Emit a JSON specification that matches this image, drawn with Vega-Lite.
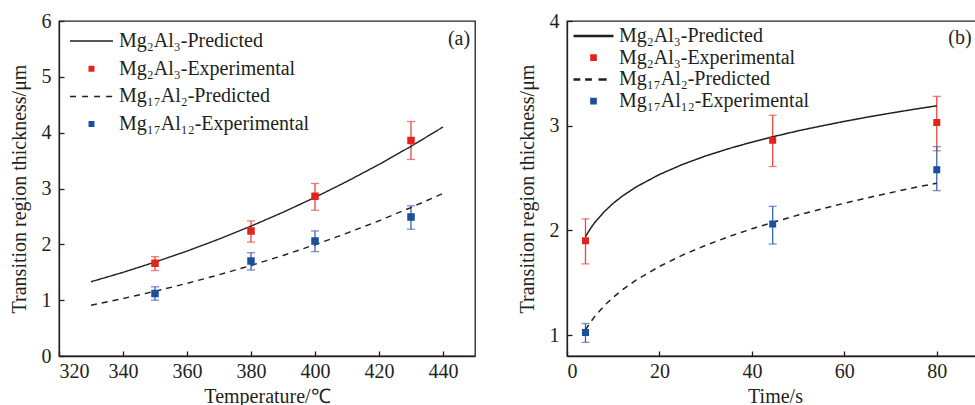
{
  "$schema": "https://vega.github.io/schema/vega-lite/v6.json",
  "autosize": {"type": "none"},
  "padding": {"left": 59, "top": 21, "right": 916, "bottom": 384},
  "background": "white",
  "bounds": "flush",
  "spacing": 92,
  "config": {
    "font": "Liberation Serif",
    "view": {"stroke": "#231f20", "strokeWidth": 1.3},
    "axis": {
      "labelFont": "Liberation Serif", "labelFontSize": 20, "labelColor": "#231f20",
      "titleFont": "Liberation Serif", "titleFontSize": 20, "titleFontWeight": "normal", "titleColor": "#231f20",
      "grid": false, "domainColor": "#231f20", "domainWidth": 1.3,
      "tickColor": "#231f20", "tickWidth": 1.3, "tickSize": -5
    },
    "axisX": {"labelPadding": 10, "titlePadding": 5},
    "axisY": {"labelPadding": 13, "titlePadding": 12},
    "legend": {"labelFont": "Liberation Serif"},
    "text": {"font": "Liberation Serif"}
  },
  "datasets": {
    "predA": [
      {"x": 330, "y": 1.33, "series": "Mg₂Al₃-Predicted"},
      {"x": 340, "y": 1.498, "series": "Mg₂Al₃-Predicted"},
      {"x": 350, "y": 1.682, "series": "Mg₂Al₃-Predicted"},
      {"x": 360, "y": 1.879, "series": "Mg₂Al₃-Predicted"},
      {"x": 370, "y": 2.094, "series": "Mg₂Al₃-Predicted"},
      {"x": 380, "y": 2.326, "series": "Mg₂Al₃-Predicted"},
      {"x": 390, "y": 2.574, "series": "Mg₂Al₃-Predicted"},
      {"x": 400, "y": 2.841, "series": "Mg₂Al₃-Predicted"},
      {"x": 410, "y": 3.127, "series": "Mg₂Al₃-Predicted"},
      {"x": 420, "y": 3.431, "series": "Mg₂Al₃-Predicted"},
      {"x": 430, "y": 3.755, "series": "Mg₂Al₃-Predicted"},
      {"x": 440, "y": 4.101, "series": "Mg₂Al₃-Predicted"},
      {"x": 330, "y": 0.91, "series": "Mg₁₇Al₂-Predicted"},
      {"x": 340, "y": 1.029, "series": "Mg₁₇Al₂-Predicted"},
      {"x": 350, "y": 1.159, "series": "Mg₁₇Al₂-Predicted"},
      {"x": 360, "y": 1.301, "series": "Mg₁₇Al₂-Predicted"},
      {"x": 370, "y": 1.455, "series": "Mg₁₇Al₂-Predicted"},
      {"x": 380, "y": 1.621, "series": "Mg₁₇Al₂-Predicted"},
      {"x": 390, "y": 1.8, "series": "Mg₁₇Al₂-Predicted"},
      {"x": 400, "y": 1.993, "series": "Mg₁₇Al₂-Predicted"},
      {"x": 410, "y": 2.201, "series": "Mg₁₇Al₂-Predicted"},
      {"x": 420, "y": 2.422, "series": "Mg₁₇Al₂-Predicted"},
      {"x": 430, "y": 2.659, "series": "Mg₁₇Al₂-Predicted"},
      {"x": 440, "y": 2.912, "series": "Mg₁₇Al₂-Predicted"}
    ],
    "expA": [
      {"x": 350, "y": 1.66, "lo": 1.53, "hi": 1.78, "series": "Mg₂Al₃-Experimental"},
      {"x": 380, "y": 2.24, "lo": 2.04, "hi": 2.42, "series": "Mg₂Al₃-Experimental"},
      {"x": 400, "y": 2.86, "lo": 2.61, "hi": 3.09, "series": "Mg₂Al₃-Experimental"},
      {"x": 430, "y": 3.86, "lo": 3.52, "hi": 4.2, "series": "Mg₂Al₃-Experimental"},
      {"x": 350, "y": 1.12, "lo": 1.0, "hi": 1.24, "series": "Mg₁₇Al₁₂-Experimental"},
      {"x": 380, "y": 1.7, "lo": 1.54, "hi": 1.85, "series": "Mg₁₇Al₁₂-Experimental"},
      {"x": 400, "y": 2.06, "lo": 1.87, "hi": 2.24, "series": "Mg₁₇Al₁₂-Experimental"},
      {"x": 430, "y": 2.49, "lo": 2.27, "hi": 2.69, "series": "Mg₁₇Al₁₂-Experimental"}
    ],
    "predB": [
      {"x": 4, "y": 1.94, "series": "Mg₂Al₃-Predicted"},
      {"x": 5, "y": 2.013, "series": "Mg₂Al₃-Predicted"},
      {"x": 6, "y": 2.075, "series": "Mg₂Al₃-Predicted"},
      {"x": 8, "y": 2.176, "series": "Mg₂Al₃-Predicted"},
      {"x": 10, "y": 2.259, "series": "Mg₂Al₃-Predicted"},
      {"x": 12, "y": 2.328, "series": "Mg₂Al₃-Predicted"},
      {"x": 15, "y": 2.416, "series": "Mg₂Al₃-Predicted"},
      {"x": 20, "y": 2.534, "series": "Mg₂Al₃-Predicted"},
      {"x": 25, "y": 2.63, "series": "Mg₂Al₃-Predicted"},
      {"x": 30, "y": 2.711, "series": "Mg₂Al₃-Predicted"},
      {"x": 35, "y": 2.781, "series": "Mg₂Al₃-Predicted"},
      {"x": 40, "y": 2.843, "series": "Mg₂Al₃-Predicted"},
      {"x": 45, "y": 2.899, "series": "Mg₂Al₃-Predicted"},
      {"x": 50, "y": 2.951, "series": "Mg₂Al₃-Predicted"},
      {"x": 55, "y": 2.997, "series": "Mg₂Al₃-Predicted"},
      {"x": 60, "y": 3.041, "series": "Mg₂Al₃-Predicted"},
      {"x": 65, "y": 3.082, "series": "Mg₂Al₃-Predicted"},
      {"x": 70, "y": 3.12, "series": "Mg₂Al₃-Predicted"},
      {"x": 75, "y": 3.156, "series": "Mg₂Al₃-Predicted"},
      {"x": 80, "y": 3.19, "series": "Mg₂Al₃-Predicted"},
      {"x": 4, "y": 1.05, "series": "Mg₁₇Al₂-Predicted"},
      {"x": 5, "y": 1.118, "series": "Mg₁₇Al₂-Predicted"},
      {"x": 6, "y": 1.178, "series": "Mg₁₇Al₂-Predicted"},
      {"x": 8, "y": 1.278, "series": "Mg₁₇Al₂-Predicted"},
      {"x": 10, "y": 1.361, "series": "Mg₁₇Al₂-Predicted"},
      {"x": 12, "y": 1.433, "series": "Mg₁₇Al₂-Predicted"},
      {"x": 15, "y": 1.526, "series": "Mg₁₇Al₂-Predicted"},
      {"x": 20, "y": 1.656, "series": "Mg₁₇Al₂-Predicted"},
      {"x": 25, "y": 1.764, "series": "Mg₁₇Al₂-Predicted"},
      {"x": 30, "y": 1.857, "series": "Mg₁₇Al₂-Predicted"},
      {"x": 35, "y": 1.94, "series": "Mg₁₇Al₂-Predicted"},
      {"x": 40, "y": 2.015, "series": "Mg₁₇Al₂-Predicted"},
      {"x": 45, "y": 2.083, "series": "Mg₁₇Al₂-Predicted"},
      {"x": 50, "y": 2.146, "series": "Mg₁₇Al₂-Predicted"},
      {"x": 55, "y": 2.204, "series": "Mg₁₇Al₂-Predicted"},
      {"x": 60, "y": 2.259, "series": "Mg₁₇Al₂-Predicted"},
      {"x": 65, "y": 2.311, "series": "Mg₁₇Al₂-Predicted"},
      {"x": 70, "y": 2.36, "series": "Mg₁₇Al₂-Predicted"},
      {"x": 75, "y": 2.407, "series": "Mg₁₇Al₂-Predicted"},
      {"x": 80, "y": 2.451, "series": "Mg₁₇Al₂-Predicted"}
    ],
    "expB": [
      {"x": 4, "y": 1.9, "lo": 1.68, "hi": 2.11, "series": "Mg₂Al₃-Experimental"},
      {"x": 44.5, "y": 2.86, "lo": 2.61, "hi": 3.1, "series": "Mg₂Al₃-Experimental"},
      {"x": 80, "y": 3.03, "lo": 2.76, "hi": 3.28, "series": "Mg₂Al₃-Experimental"},
      {"x": 4, "y": 1.025, "lo": 0.93, "hi": 1.11, "series": "Mg₁₇Al₁₂-Experimental"},
      {"x": 44.5, "y": 2.06, "lo": 1.87, "hi": 2.23, "series": "Mg₁₇Al₁₂-Experimental"},
      {"x": 80, "y": 2.58, "lo": 2.38, "hi": 2.8, "series": "Mg₁₇Al₁₂-Experimental"}
    ],
    "labA": [{"x": 445, "y": 5.67, "t": "(a)"}],
    "labB": [{"x": 85, "y": 3.835, "t": "(b)"}]
  },
  "hconcat": [
    {
      "width": 416, "height": 335,
      "layer": [
        {
          "data": {"name": "expA"},
          "mark": {"type": "errorbar", "ticks": {"size": 8, "thickness": 1.3}, "rule": {"strokeWidth": 1.3}},
          "encoding": {
            "x": {"field": "x", "type": "quantitative", "scale": {"domain": [320, 450], "nice": false}, "axis": {"values": [320, 340, 360, 380, 400, 420, 440], "format": "d", "title": "Temperature/℃", "labelFont": "Liberation Serif", "titleFont": "Liberation Serif"}},
            "y": {"field": "lo", "type": "quantitative", "scale": {"domain": [0, 6], "nice": false}, "axis": {"values": [0, 1, 2, 3, 4, 5, 6], "format": "d", "title": "Transition region thickness/μm", "labelFont": "Liberation Serif", "titleFont": "Liberation Serif"}},
            "y2": {"field": "hi"},
            "color": {"field": "series", "type": "nominal", "scale": {"domain": ["Mg₂Al₃-Experimental", "Mg₁₇Al₁₂-Experimental"], "range": ["#e8473f", "#3d62b3"]}, "legend": null}
          }
        },
        {
          "data": {"name": "predA"},
          "mark": {"type": "line", "color": "#231f20", "strokeWidth": 1.4},
          "encoding": {
            "x": {"field": "x", "type": "quantitative"},
            "y": {"field": "y", "type": "quantitative"},
            "strokeDash": {"field": "series", "type": "nominal", "scale": {"domain": ["Mg₂Al₃-Predicted", "Mg₁₇Al₂-Predicted"], "range": [[1, 0], [6, 5]]}, "legend": null}
          }
        },
        {
          "data": {"name": "expA"},
          "mark": {"type": "point", "filled": true, "opacity": 1, "size": 3330, "strokeWidth": 1.5},
          "encoding": {
            "x": {"field": "x", "type": "quantitative"},
            "y": {"field": "y", "type": "quantitative"},
            "shape": {"field": "series", "type": "nominal", "title": null,
              "scale": {"domain": ["Mg₂Al₃-Predicted", "Mg₂Al₃-Experimental", "Mg₁₇Al₂-Predicted", "Mg₁₇Al₁₂-Experimental"],
                "range": ["M-1,0H1", "M-0.104,-0.104H0.104V0.104H-0.104Z", "M-1,0H-0.72M-0.44,0H-0.16M0.12,0H0.4M0.68,0H0.96", "M-0.104,-0.104H0.104V0.104H-0.104Z"]},
              "legend": {"orient": "top-left", "offset": 10, "padding": 0, "symbolSize": 1849, "symbolStrokeWidth": 1.5, "labelFont": "Liberation Serif", "labelFontSize": 20, "labelColor": "#231f20", "labelOffset": 5, "rowPadding": 7.7, "clipHeight": 20, "labelLimit": 400}},
            "fill": {"field": "series", "type": "nominal", "title": null,
              "scale": {"domain": ["Mg₂Al₃-Predicted", "Mg₂Al₃-Experimental", "Mg₁₇Al₂-Predicted", "Mg₁₇Al₁₂-Experimental"], "range": ["#231f20", "#e3231c", "#231f20", "#1d4f9f"]},
              "legend": {"orient": "top-left", "offset": 10, "padding": 0, "symbolSize": 1849, "symbolStrokeWidth": 1.5, "labelFont": "Liberation Serif", "labelFontSize": 20, "labelColor": "#231f20", "labelOffset": 5, "rowPadding": 7.7, "clipHeight": 20, "labelLimit": 400}},
            "stroke": {"field": "series", "type": "nominal", "title": null,
              "scale": {"domain": ["Mg₂Al₃-Predicted", "Mg₂Al₃-Experimental", "Mg₁₇Al₂-Predicted", "Mg₁₇Al₁₂-Experimental"], "range": ["#231f20", "#e3231c", "#231f20", "#1d4f9f"]},
              "legend": {"orient": "top-left", "offset": 10, "padding": 0, "symbolSize": 1849, "symbolStrokeWidth": 1.5, "labelFont": "Liberation Serif", "labelFontSize": 20, "labelColor": "#231f20", "labelOffset": 5, "rowPadding": 7.7, "clipHeight": 20, "labelLimit": 400}}
          }
        },
        {
          "data": {"name": "labA"},
          "mark": {"type": "text", "font": "Liberation Serif", "fontSize": 20, "color": "#231f20", "align": "center", "baseline": "middle"},
          "encoding": {
            "x": {"field": "x", "type": "quantitative"},
            "y": {"field": "y", "type": "quantitative"},
            "text": {"field": "t"}
          }
        }
      ]
    },
    {
      "width": 416, "height": 335,
      "layer": [
        {
          "data": {"name": "expB"},
          "mark": {"type": "errorbar", "ticks": {"size": 8, "thickness": 1.3}, "rule": {"strokeWidth": 1.3}},
          "encoding": {
            "x": {"field": "x", "type": "quantitative", "scale": {"domain": [0, 90], "nice": false}, "axis": {"values": [0, 20, 40, 60, 80], "format": "d", "title": "Time/s", "labelFont": "Liberation Serif", "titleFont": "Liberation Serif"}},
            "y": {"field": "lo", "type": "quantitative", "scale": {"domain": [0.8, 4], "nice": false, "zero": false}, "axis": {"values": [1, 2, 3, 4], "format": "d", "title": "Transition region thickness/μm", "labelFont": "Liberation Serif", "titleFont": "Liberation Serif"}},
            "y2": {"field": "hi"},
            "color": {"field": "series", "type": "nominal", "scale": {"domain": ["Mg₂Al₃-Experimental", "Mg₁₇Al₁₂-Experimental"], "range": ["#e8473f", "#3d62b3"]}, "legend": null}
          }
        },
        {
          "data": {"name": "predB"},
          "mark": {"type": "line", "color": "#231f20", "strokeWidth": 1.5},
          "encoding": {
            "x": {"field": "x", "type": "quantitative"},
            "y": {"field": "y", "type": "quantitative"},
            "strokeDash": {"field": "series", "type": "nominal", "scale": {"domain": ["Mg₂Al₃-Predicted", "Mg₁₇Al₂-Predicted"], "range": [[1, 0], [6, 5]]}, "legend": null}
          }
        },
        {
          "data": {"name": "expB"},
          "mark": {"type": "point", "filled": true, "opacity": 1, "size": 1870, "strokeWidth": 2.5},
          "encoding": {
            "x": {"field": "x", "type": "quantitative"},
            "y": {"field": "y", "type": "quantitative"},
            "shape": {"field": "series", "type": "nominal", "title": null,
              "scale": {"domain": ["Mg₂Al₃-Predicted", "Mg₂Al₃-Experimental", "Mg₁₇Al₂-Predicted", "Mg₁₇Al₁₂-Experimental"],
                "range": ["M-1,0H1", "M-0.104,-0.104H0.104V0.104H-0.104Z", "M-1,0H-0.66M-0.42,0H-0.08M0.25,0H0.66", "M-0.104,-0.104H0.104V0.104H-0.104Z"]},
              "legend": {"orient": "top-left", "offset": 5, "padding": 0, "symbolSize": 1600, "symbolStrokeWidth": 2.5, "labelFont": "Liberation Serif", "labelFontSize": 20, "labelColor": "#231f20", "labelOffset": 4, "rowPadding": 1.7, "clipHeight": 20, "labelLimit": 400}},
            "fill": {"field": "series", "type": "nominal", "title": null,
              "scale": {"domain": ["Mg₂Al₃-Predicted", "Mg₂Al₃-Experimental", "Mg₁₇Al₂-Predicted", "Mg₁₇Al₁₂-Experimental"], "range": ["#231f20", "#e3231c", "#231f20", "#1d4f9f"]},
              "legend": {"orient": "top-left", "offset": 5, "padding": 0, "symbolSize": 1600, "symbolStrokeWidth": 2.5, "labelFont": "Liberation Serif", "labelFontSize": 20, "labelColor": "#231f20", "labelOffset": 4, "rowPadding": 1.7, "clipHeight": 20, "labelLimit": 400}},
            "stroke": {"field": "series", "type": "nominal", "title": null,
              "scale": {"domain": ["Mg₂Al₃-Predicted", "Mg₂Al₃-Experimental", "Mg₁₇Al₂-Predicted", "Mg₁₇Al₁₂-Experimental"], "range": ["#231f20", "#e3231c", "#231f20", "#1d4f9f"]},
              "legend": {"orient": "top-left", "offset": 5, "padding": 0, "symbolSize": 1600, "symbolStrokeWidth": 2.5, "labelFont": "Liberation Serif", "labelFontSize": 20, "labelColor": "#231f20", "labelOffset": 4, "rowPadding": 1.7, "clipHeight": 20, "labelLimit": 400}}
          }
        },
        {
          "data": {"name": "labB"},
          "mark": {"type": "text", "font": "Liberation Serif", "fontSize": 20, "color": "#231f20", "align": "center", "baseline": "middle"},
          "encoding": {
            "x": {"field": "x", "type": "quantitative"},
            "y": {"field": "y", "type": "quantitative"},
            "text": {"field": "t"}
          }
        }
      ]
    }
  ],
  "resolve": {
    "scale": {"x": "independent", "y": "independent", "color": "independent", "fill": "independent", "stroke": "independent", "shape": "independent", "strokeDash": "independent"},
    "legend": {"fill": "independent", "stroke": "independent", "shape": "independent"}
  }
}
